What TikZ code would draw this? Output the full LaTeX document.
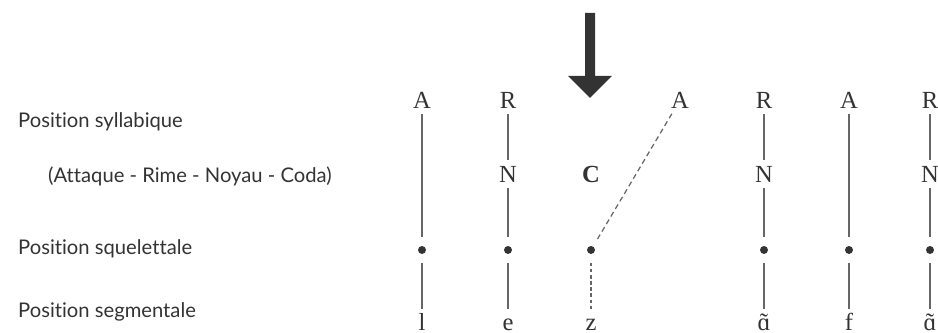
\documentclass[tikz,border=0pt]{standalone}
\usepackage{fontspec}
\setmainfont{Liberation Serif}
\newfontfamily\gillfont[Ligatures=NoCommon]{Lato}
\newcommand\nasale[1]{\ooalign{#1\cr\hidewidth˜\hidewidth\cr}}
\usetikzlibrary{positioning}

\begin{document}
\begin{tikzpicture}[x=0.02cm, y=-0.02cm,
		lettre/.style={text=black!80, font=\fontsize{14}{16}\selectfont, text height=9.3pt, text depth=0pt, inner sep=3pt},
		niveau/.style={anchor=base west, text=black!80, font=\gillfont\fontsize{11.5}{13}\selectfont},
		pt/.style={circle, fill=black!80, inner sep=1.6pt, outer sep=5pt},
		lien/.style={draw=black!60, line width=0.7pt}]
				\useasboundingbox (0,0) rectangle (938,333);
				% niveaux
				\node[niveau] (ns)at(12, 128) {Position syllabique};
				\node[niveau] (na)at(42, 183) {(Attaque - Rime - Noyau - Coda)};
				\node[niveau] (nq)at(12, 255) {Position squelettale};
				\node[niveau] (ng)at(12, 318) {Position segmentale};
				% fleche
				\fill[black!80] (585, 13) -- (595, 13) -- (595, 76) -- (612, 76) -- (590, 98) -- (568, 76) -- (585, 76) -- cycle;
				% constituants
				\node[lettre] (A1)at(422, 100) {A};
				\node[lettre] (R1)at(508, 100) {R};
				\node[lettre] (N1)at(508, 174) {N};
				\node[lettre, font=\bfseries\fontsize{14}{16}\selectfont] (C)at(591, 174) {C};
				\node[lettre] (A2)at(680, 100) {A};
				\node[lettre] (R2)at(764, 100) {R};
				\node[lettre] (N2)at(764, 174) {N};
				\node[lettre] (A3)at(849, 100) {A};
				\node[lettre] (R3)at(930, 100) {R};
				\node[lettre] (N3)at(930, 174) {N};
				% squelette
				\node[pt] (p1)at(422, 250) {};
				\node[pt] (p2)at(508, 250) {};
				\node[pt] (p3)at(591, 250) {};
				\node[pt] (p4)at(764, 250) {};
				\node[pt] (p5)at(849, 250) {};
				\node[pt] (p6)at(930, 250) {};
				% segments
				\node[lettre, anchor=base] (s1)at(422, 331) {l};
				\node[lettre, anchor=base] (s2)at(508, 331) {e};
				\node[lettre, anchor=base] (s3)at(591, 331) {z};
				\node[lettre, anchor=base] (s4)at(764, 331) {\nasale{ɑ}};
				\node[lettre, anchor=base] (s5)at(849, 331) {f};
				\node[lettre, anchor=base] (s6)at(930, 331) {\nasale{ɑ}};
				\draw[lien] (A1) -- (p1);
				\draw[lien] (R1) -- (N1);
				\draw[lien] (N1) -- (p2);
				\draw[lien, dash pattern=on 3pt off 2pt] (A2) -- (p3);
				\draw[lien] (R2) -- (N2);
				\draw[lien] (N2) -- (p4);
				\draw[lien] (A3) -- (p5);
				\draw[lien] (R3) -- (N3);
				\draw[lien] (N3) -- (p6);
				\draw[lien] (p1) -- (s1);
				\draw[lien] (p2) -- (s2);
				\draw[lien, dash pattern=on 2pt off 1.5pt] (p3) -- (s3);
				\draw[lien] (p4) -- (s4);
				\draw[lien] (p5) -- (s5);
				\draw[lien] (p6) -- (s6);
			\end{tikzpicture}
\end{document}
